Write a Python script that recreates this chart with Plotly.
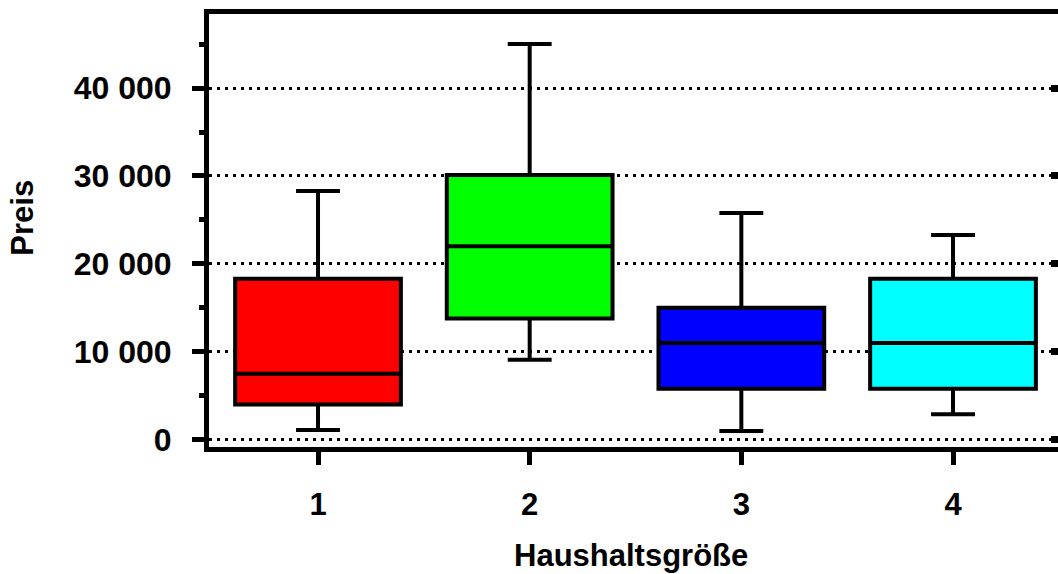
import plotly.graph_objects as go

# ---- data ----
categories = [1, 2, 3, 4]
lower_whisker = [1100, 9100, 1000, 2900]
q1_values = [4000, 13800, 5800, 5800]
medians = [7500, 22000, 11000, 11000]
q3_values = [18300, 30100, 15000, 18300]
upper_whisker = [28300, 45000, 25800, 23300]
box_colors = ["#FF0000", "#00FF00", "#0000FF", "#00FFFF"]
y_tick_values = [0, 10000, 20000, 30000, 40000]
x_tick_labels = ["1", "2", "3", "4"]

FONT = "Liberation Sans"

fig = go.Figure()
for i, cat in enumerate(categories):
    fig.add_trace(go.Box(
        x=[cat],
        q1=[q1_values[i]], median=[medians[i]], q3=[q3_values[i]],
        lowerfence=[lower_whisker[i]], upperfence=[upper_whisker[i]],
        fillcolor=box_colors[i],
        line=dict(color="black", width=4),
        width=0.783, whiskerwidth=0.265,
        boxpoints=False, showlegend=False, hoverinfo="skip",
    ))

# invisible trace to activate the right-side mirror ticks axis
fig.add_trace(go.Scatter(x=[categories[0]], y=[y_tick_values[0]], yaxis="y2",
                         mode="markers", marker=dict(opacity=0),
                         showlegend=False, hoverinfo="skip"))

ytickfont = dict(family=FONT, size=32, color="black", weight="bold")
xtickfont = dict(family=FONT, size=31, color="black", weight="bold")
titlefont = dict(family=FONT, size=31, color="black", weight="bold")

fig.update_layout(
    width=1058, height=574,
    margin=dict(l=209, r=0, t=14, b=127),
    paper_bgcolor="white", plot_bgcolor="white",
    separators=". ",
    boxmode="overlay",
    xaxis=dict(
        range=[0.485, 4.496],
        tickmode="array", tickvals=categories, ticktext=x_tick_labels,
        showline=True, linewidth=5, linecolor="black", mirror=True,
        ticks="outside", ticklen=13, tickwidth=5, tickcolor="black",
        tickfont=xtickfont, ticklabelstandoff=13,
        showgrid=False, zeroline=False,
    ),
    yaxis=dict(
        range=[-826, 48425],
        tickmode="array", tickvals=y_tick_values, tickformat=",d",
        showline=True, linewidth=5, linecolor="black",
        ticks="outside", ticklen=12, tickwidth=5, tickcolor="black",
        tickfont=ytickfont, ticklabelstandoff=14,
        minor=dict(dtick=5000, tick0=0, ticks="outside", ticklen=5,
                   tickwidth=5, tickcolor="black", showgrid=False),
        showgrid=True, gridcolor="black", gridwidth=3, griddash="3px,5px",
        zeroline=False,
    ),
    yaxis2=dict(
        overlaying="y", side="right", anchor="x", matches="y",
        range=[-826, 48425],
        tickmode="array", tickvals=y_tick_values,
        ticks="inside", ticklen=7, tickwidth=7, tickcolor="black",
        showticklabels=False, showgrid=False, showline=False, zeroline=False,
    ),
    annotations=[
        dict(text="Preis", xref="paper", yref="paper",
             x=-0.219, y=0.5298, xanchor="center", yanchor="middle",
             textangle=-90, showarrow=False, font=titlefont),
        dict(text="Haushaltsgröße", xref="paper", yref="paper",
             x=0.4967, y=-0.2503, xanchor="center", yanchor="middle",
             showarrow=False, font=titlefont),
    ],
)

fig.write_html("out.html")
